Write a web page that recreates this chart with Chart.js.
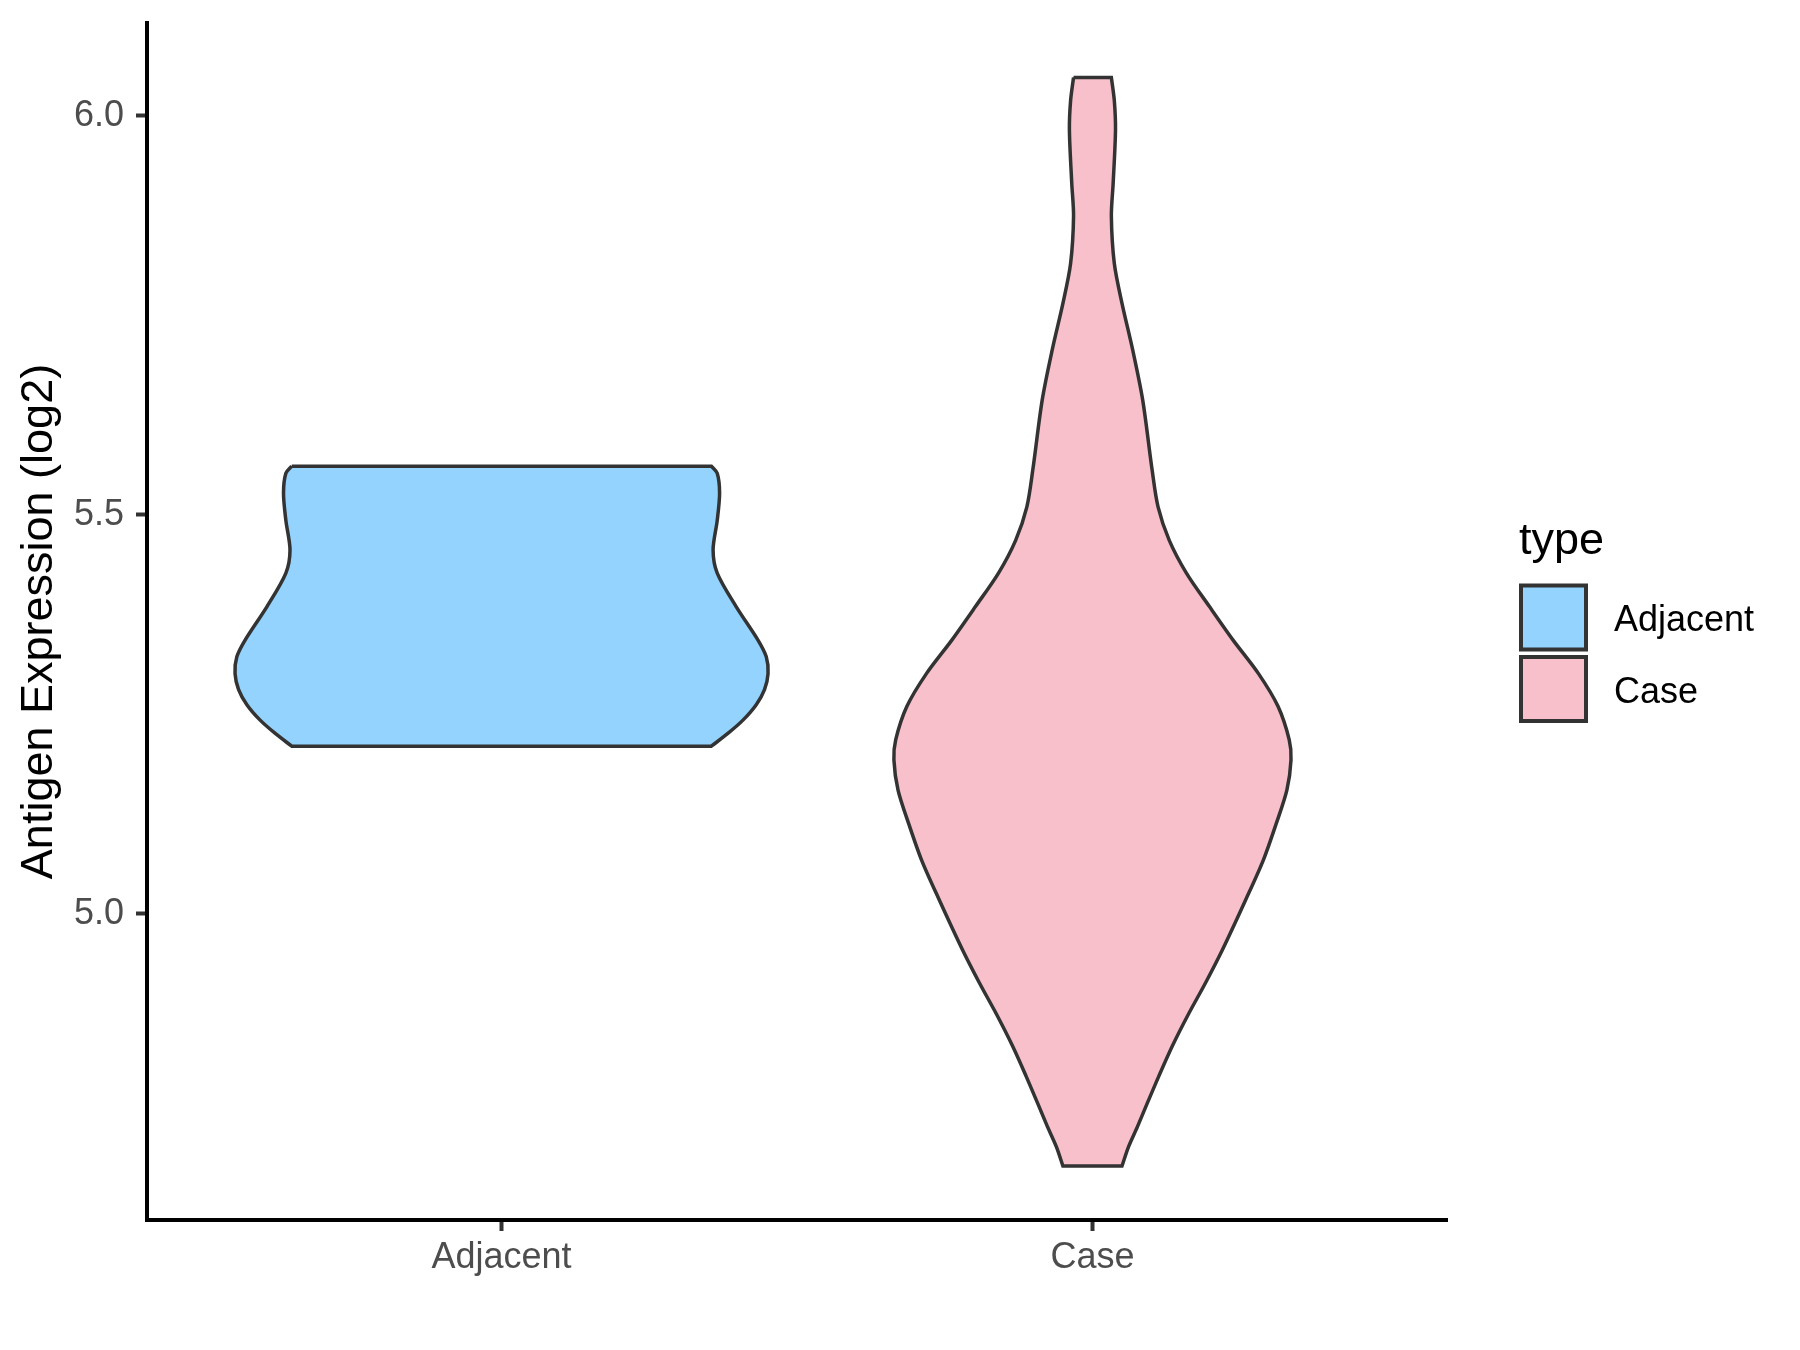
<!DOCTYPE html>
<html>
<head>
<meta charset="utf-8">
<title>Antigen Expression (log2)</title>
<script src="https://cdn.jsdelivr.net/npm/chart.js@4.4.1/dist/chart.umd.min.js"></script>
<style>
  html, body { margin: 0; padding: 0; background: #ffffff; }
  #wrap { width: 1800px; height: 1350px; }
</style>
</head>
<body>
<div id="wrap"><canvas id="myChart"></canvas></div>
<script>
// groups along the x axis
const categories = ["Adjacent", "Case"];
const yTicks = [5.0, 5.5, 6.0];

// violin outlines, top to bottom:
// value (log2) and half width of the violin (in x axis units)
const adjacentValues = [5.561, 5.552, 5.527, 5.493, 5.456, 5.427, 5.385, 5.343, 5.322, 5.301, 5.281, 5.262, 5.243, 5.226, 5.210];
const adjacentHalfWidth = [0.355, 0.365, 0.369, 0.365, 0.358, 0.365, 0.397, 0.434, 0.448, 0.451, 0.445, 0.431, 0.409, 0.383, 0.355];

const caseValues = [6.048, 6.019, 5.982, 5.915, 5.874, 5.815, 5.765, 5.707, 5.644, 5.556, 5.510, 5.468, 5.427, 5.385,
                    5.343, 5.301, 5.260, 5.218, 5.193, 5.155, 5.113, 5.067, 5.017, 4.955, 4.913, 4.875, 4.834,
                    4.796, 4.763, 4.733, 4.708, 4.684];
const caseHalfWidth = [0.032, 0.037, 0.039, 0.035, 0.032, 0.037, 0.050, 0.068, 0.085, 0.101, 0.111, 0.130, 0.159, 0.198,
                       0.238, 0.281, 0.314, 0.333, 0.336, 0.329, 0.311, 0.289, 0.259, 0.220, 0.191, 0.163, 0.135,
                       0.112, 0.093, 0.076, 0.061, 0.050];

const fillColors = ["#93D3FD", "#F7C0CB"];
const outlineColor = "#333333";
const fontFamily = "'Liberation Sans', Arial, sans-serif";

// closed outline: down the left side, across the bottom, up the right side, across the top
// the corner points are doubled so the spline keeps the flat ends straight
function violinOutline(center, values, halfWidth) {
    let pts = [];
    let n = values.length;
    for (let i = 0; i < n; i++) {
        pts.push({x: center - halfWidth[i], y: values[i]});
    }
    pts.push({x: center - halfWidth[n - 1], y: values[n - 1]});
    pts.push({x: center + halfWidth[n - 1], y: values[n - 1]});
    for (let i = n - 1; i >= 0; i--) {
        pts.push({x: center + halfWidth[i], y: values[i]});
    }
    pts.push({x: center + halfWidth[0], y: values[0]});
    pts.push({x: center - halfWidth[0], y: values[0]});
    return pts;
}

const allValues = [adjacentValues, caseValues];
const allWidths = [adjacentHalfWidth, caseHalfWidth];

const datasets = categories.map(function (name, k) {
    return {
        label: name,
        data: violinOutline(k + 1, allValues[k], allWidths[k]),
        showLine: true,
        fill: 'shape',
        backgroundColor: fillColors[k],
        borderColor: outlineColor,
        borderWidth: 3.5,
        borderJoinStyle: 'miter',
        pointRadius: 0,
        pointHoverRadius: 0,
        tension: 0.3
    };
});

// legend "type" drawn to the right of the plot
const typeLegend = {
    id: 'typeLegend',
    afterDraw(chart) {
        const ctx = chart.ctx;
        const left = chart.chartArea.right + 72;
        ctx.save();
        ctx.fillStyle = "#000000";
        ctx.textBaseline = 'alphabetic';
        ctx.font = "45px " + fontFamily;
        ctx.fillText("type", left, 554);

        ctx.font = "36px " + fontFamily;
        categories.forEach(function (name, k) {
            const top = 585.5 + k * 71.5;
            ctx.fillStyle = fillColors[k];
            ctx.strokeStyle = outlineColor;
            ctx.lineWidth = 4;
            ctx.beginPath();
            ctx.rect(left + 2, top, 65, 64);
            ctx.fill();
            ctx.stroke();
            ctx.fillStyle = "#000000";
            ctx.fillText(name, left + 95, top + 45.5);
        });
        ctx.restore();
    }
};

const tickFont = {family: fontFamily, size: 36};

let myChart = new Chart(document.getElementById("myChart").getContext('2d'), {
    type: 'scatter',
    data: {datasets: datasets},
    plugins: [typeLegend],
    options: {
        responsive: true,
        maintainAspectRatio: false,
        animation: false,
        layout: {padding: {top: 23, right: 353, bottom: 0, left: 0}},
        plugins: {
            legend: {display: false},
            tooltip: {enabled: false}
        },
        scales: {
            x: {
                type: 'linear',
                min: 0.4,
                max: 2.6,
                afterBuildTicks: function (scale) {
                    scale.ticks = categories.map(function (c, i) { return {value: i + 1}; });
                },
                afterFit: function (scale) {
                    scale.height = 130;
                    scale.paddingLeft = 0;
                    scale.paddingRight = 0;
                },
                ticks: {
                    callback: function (v) { return categories[v - 1]; },
                    font: tickFont,
                    color: "#4D4D4D",
                    padding: 5,
                    maxRotation: 0,
                    autoSkip: false
                },
                grid: {drawOnChartArea: false, drawTicks: true, tickLength: 11, tickColor: outlineColor, tickWidth: 4},
                border: {display: true, color: "#000000", width: 4}
            },
            y: {
                type: 'linear',
                min: 4.6163,
                max: 6.1163,
                afterBuildTicks: function (scale) {
                    scale.ticks = yTicks.map(function (v) { return {value: v}; });
                },
                afterFit: function (scale) {
                    scale.width = 147;
                    scale.paddingTop = 0;
                    scale.paddingBottom = 0;
                },
                ticks: {
                    callback: function (v) { return Number(v).toFixed(1); },
                    font: tickFont,
                    color: "#4D4D4D",
                    padding: 12
                },
                title: {
                    display: true,
                    text: "Antigen Expression (log2)",
                    font: {family: fontFamily, size: 45},
                    color: "#000000",
                    padding: {top: 13, bottom: 0}
                },
                grid: {drawOnChartArea: false, drawTicks: true, tickLength: 11, tickColor: outlineColor, tickWidth: 4},
                border: {display: true, color: "#000000", width: 4}
            }
        }
    }
});
</script>
</body>
</html>
